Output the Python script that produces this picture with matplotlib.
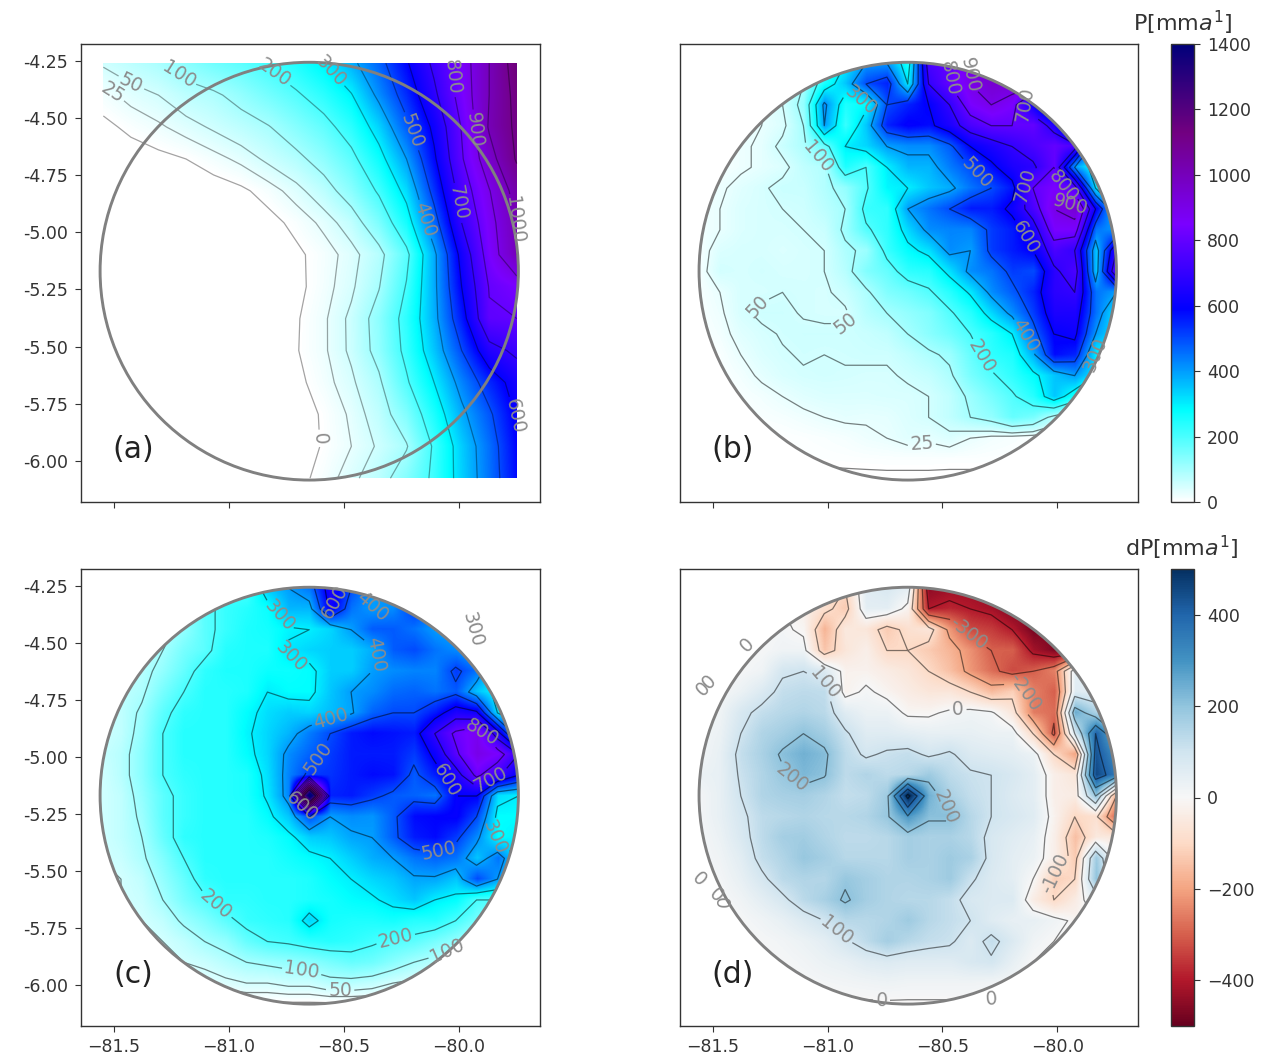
import numpy as np
import matplotlib
matplotlib.use("Agg")
import matplotlib.pyplot as plt
from matplotlib.colors import LinearSegmentedColormap
from matplotlib.patches import Ellipse, Rectangle

# ---- data (mm/a) ----
lon_a = np.linspace(-81.546, -79.749, 16)
lat_a = np.linspace(-4.26, -6.076, 14)
P_a = [
 [55,75,95,130,160,180,210,250,300,380,470,590,720,850,1000,1150],
 [15,35,50,75,90,120,155,190,235,295,420,540,680,840,1000,1130],
 [-8,7,20,37,55,75,97,135,175,235,335,480,620,805,1010,1120],
 [-20,-15,-8,0,15,32,58,85,125,180,270,400,585,790,960,1110],
 [-25,-25,-25,-20,-15,-6,12,38,75,130,210,325,530,745,895,1040],
 [-30,-30,-30,-30,-30,-25,-10,8,32,70,145,260,460,700,865,1010],
 [-30,-30,-30,-30,-30,-30,-20,-6,12,37,80,180,380,630,845,1000],
 [-30,-30,-30,-30,-30,-30,-20,-8,14,43,97,205,380,600,805,850],
 [-30,-30,-30,-30,-30,-30,-15,-3,20,58,125,230,375,560,790,800],
 [-30,-30,-30,-30,-30,-30,-15,-2,20,57,120,220,350,500,665,720],
 [-30,-30,-30,-30,-30,-30,-20,-8,14,43,90,190,300,430,545,640],
 [-30,-30,-30,-30,-30,-30,-25,-12,3,30,70,140,250,380,485,610],
 [-30,-30,-30,-30,-30,-30,-25,-12,2,25,55,95,210,340,455,590],
 [-30,-30,-30,-30,-30,-30,-25,-10,10,40,75,135,215,335,450,580],
]

lon_g = np.linspace(-81.56, -79.742, 21)
lat_g = np.linspace(-4.26, -6.083, 21)
P_b = [
 [10,10,10,10,40,100,200,300,400,400,250,750,800,900,950,950,950,900,800,700,600],
 [10,10,10,20,40,100,250,350,500,550,300,700,800,900,950,950,950,900,800,700,600],
 [10,10,10,20,50,120,420,250,280,500,550,600,700,850,900,850,600,350,300,300,300],
 [10,10,15,25,40,100,400,220,350,550,600,580,650,750,800,800,800,650,300,300,300],
 [10,10,20,30,60,90,170,300,330,400,420,420,480,600,650,700,750,800,750,300,300],
 [10,10,20,30,40,70,85,250,200,300,370,370,440,500,580,650,680,800,400,250,250],
 [15,20,35,45,60,60,85,120,190,290,300,350,380,450,500,570,800,850,750,300,200],
 [15,25,40,45,50,55,75,100,220,230,400,450,500,560,560,620,750,900,950,600,300],
 [15,25,40,45,45,50,60,110,190,230,330,420,430,430,520,560,650,850,850,450,400],
 [10,40,45,45,40,45,50,90,110,220,280,320,420,400,520,560,600,750,700,350,700],
 [10,50,45,50,45,45,50,80,140,170,230,240,320,420,450,520,500,680,750,350,800],
 [10,25,45,45,50,48,45,60,90,140,160,190,240,310,420,480,550,680,700,450,400],
 [8,20,45,55,55,48,45,45,80,100,120,140,190,240,330,420,520,650,650,450,300],
 [5,15,35,45,52,55,55,55,60,70,100,130,160,200,240,300,470,600,620,400,300],
 [5,8,25,40,48,52,50,52,55,55,70,90,110,170,230,250,380,580,550,300,250],
 [5,5,15,30,42,48,50,48,45,45,55,65,90,150,190,230,280,350,400,300,150],
 [5,5,8,15,25,35,40,40,40,42,42,50,70,110,150,190,240,350,250,100,50],
 [5,5,5,8,12,18,25,30,28,30,40,50,70,100,120,170,150,80,40,20,10],
 [2,2,2,2,2,5,8,12,20,25,35,30,40,25,15,10,5,5,5,5,5],
 [1,1,1,1,1,2,3,4,5,6,6,6,5,5,4,3,2,1,1,1,1],
 [-5,-5,-5,-5,-5,-5,-5,-5,-5,-5,-5,-5,-5,-5,-5,-5,-5,-5,-5,-5,-5],
]
P_c = [
 [50,50,50,50,100,150,200,200,350,400,450,650,500,400,400,500,500,450,400,300,300],
 [50,50,50,60,120,180,220,240,270,370,370,620,450,400,420,520,450,320,300,300,300],
 [50,50,50,80,120,180,220,250,260,290,300,330,400,480,480,450,400,380,280,280,280],
 [50,50,60,100,150,180,240,250,250,310,330,340,340,380,480,500,450,420,360,280,280],
 [50,60,80,120,170,230,250,250,270,270,280,340,340,400,420,430,430,520,450,280,280],
 [50,70,90,150,200,240,240,250,300,280,280,350,400,420,460,470,450,480,350,280,250],
 [50,70,110,180,230,240,240,280,320,340,330,360,390,470,500,500,560,650,620,300,280],
 [50,70,120,200,240,240,240,290,330,370,440,500,560,580,570,560,700,820,880,650,320],
 [60,80,130,200,240,240,240,280,330,420,470,520,560,560,560,520,620,780,900,850,700],
 [50,80,130,200,230,240,240,250,320,430,520,530,560,580,570,480,560,650,820,720,600],
 [50,70,120,180,220,240,240,250,310,430,1500,550,560,520,480,470,450,600,600,320,300],
 [50,70,110,180,220,240,240,240,280,350,500,400,420,410,480,580,590,600,500,280,280],
 [50,70,100,170,230,240,240,240,250,280,340,350,390,400,480,560,580,520,420,280,300],
 [50,60,90,140,200,240,240,240,240,260,280,300,340,380,400,450,470,450,350,450,300],
 [40,50,70,120,170,230,240,240,240,240,250,280,300,330,350,390,390,350,500,400,300],
 [30,50,60,100,150,190,230,230,240,240,250,260,280,290,320,350,300,280,200,200,150],
 [30,40,50,70,110,140,180,220,230,240,330,260,250,250,260,240,240,200,150,100,80],
 [30,30,40,50,70,100,120,170,200,210,230,240,230,210,190,180,150,120,80,60,40],
 [20,20,30,40,50,60,80,100,110,120,130,150,170,160,130,100,80,50,40,30,20],
 [10,10,20,25,30,30,40,50,50,60,60,80,80,70,50,40,30,20,10,10,10],
 [-5,-5,-5,-5,-5,-5,-5,-5,-5,-5,-5,-5,-5,-5,-5,-5,-5,-5,-5,-5,-5],
]
dP_d = [
 [0,0,0,0,0,-30,-80,-100,60,80,50,-450,-430,-430,-450,-450,-450,-420,-300,-200,-100],
 [0,0,0,0,0,-30,-80,-130,50,50,-20,-400,-380,-400,-420,-470,-470,-450,-300,-200,-100],
 [0,0,0,0,10,-10,-170,-50,-60,-130,-80,-60,-220,-330,-350,-400,-480,-460,-200,-100,-50],
 [0,0,0,5,20,20,-140,-60,-30,-100,-100,-130,-170,-230,-300,-300,-420,-470,-480,-100,-50],
 [0,0,5,20,90,100,70,-20,-20,-40,-60,-100,-150,-220,-280,-330,-300,-250,50,30,0],
 [0,5,30,70,120,130,125,-20,10,-15,-40,-60,-60,-100,-160,-120,-250,-300,60,50,30],
 [5,20,80,120,140,150,135,60,30,30,-10,-10,10,20,10,-60,-260,-280,250,150,100],
 [10,30,100,150,170,200,170,110,60,60,50,40,40,40,30,30,-100,-320,100,400,200],
 [10,40,120,160,210,240,215,130,90,110,120,90,110,70,60,50,30,-100,-200,430,300],
 [30,40,110,150,190,225,205,130,150,130,140,180,130,110,100,80,50,-30,-60,450,350],
 [10,40,100,150,165,170,150,120,130,180,530,240,160,120,100,70,50,-30,-40,200,-200],
 [10,40,85,130,140,150,140,140,150,190,290,210,210,140,100,80,60,-20,-100,-80,-300],
 [5,30,75,130,170,175,150,130,130,140,170,160,160,140,80,60,40,-30,-150,-50,-50],
 [5,20,55,120,150,190,170,140,140,140,170,160,180,160,80,50,30,-30,-130,180,-50],
 [0,10,40,85,135,150,145,190,170,150,150,160,180,110,70,50,0,-120,-100,200,0],
 [0,0,20,50,85,135,165,210,170,150,140,140,120,80,70,70,-40,-100,-40,50,0],
 [0,0,5,20,40,70,100,140,140,150,180,140,120,100,60,40,40,20,-10,0,0],
 [0,0,0,5,15,30,50,90,130,170,140,120,110,70,120,70,20,0,0,0,0],
 [0,0,0,0,5,15,30,40,60,70,60,60,60,80,90,40,0,0,0,0,0],
 [-5,-5,-5,-5,0,5,10,15,20,25,20,20,20,20,15,10,-5,-5,-5,-5,-5],
 [-5,-5,-5,-5,-5,-5,-5,-5,-5,-5,-5,-5,-5,-5,-5,-5,-5,-5,-5,-5,-5],
]
levels_P = [0,25,50,100,200,300,400,500,600,700,800,900,1000,1100,1200]
levels_dP = [-500,-400,-300,-200,-100,0,100,200,300,400,500]
xticks = [-81.5,-81.0,-80.5,-80.0]
yticks = [-4.25,-4.5,-4.75,-5.0,-5.25,-5.5,-5.75,-6.0]
xlim = (-81.643,-79.648)
ylim = (-6.18,-4.176)
circle_c = (-80.651,-5.17)
circle_w, circle_h = 1.818,1.828

def z(zx, zy):
    return (-81.643+(9+zx/3)/230, -4.176-(6+zy/3)/228.6)

labels_a = {0:[(695,1165)],25:[(60,140)],50:[(125,95)],100:[(280,55)],200:[(560,60)],300:[(725,60)],
            400:[(1015,505)],500:[(975,240)],600:[(1270,1100)],700:[(1125,455)],800:[(1095,80)],
            900:[(1150,240)],1000:[(1270,510)]}
labels_b = {25:[(695,1145)],50:[(210,775),(490,875)],100:[(375,335)],200:[(850,940)],
            300:[(540,90),(1165,900)],400:[(1055,835)],500:[(900,335)],600:[(1050,540)],
            700:[(940,180),(1020,410)],800:[(705,85),(1105,420)],900:[(810,75),(1150,480)]}
labels_c = {50:[(750,1230)],100:[(640,1140),(1045,1070)],200:[(475,870),(910,1060)],
            300:[(590,105),(590,280),(1065,215),(1210,790)],400:[(720,425),(910,250),(820,95)],
            500:[(735,600),(1030,790)],600:[(735,80),(1095,605),(650,680)],700:[(1195,600)],800:[(1175,475)]}
labels_d = {-300:[(890,130)],-200:[(1025,340)],-100:[(1090,890)],0:[(205,240),(115,415),(810,465),(105,500),(80,770),(125,920),(145,985),(580,1235),(905,1220)],
            100:[(570,110),(435,1080)],200:[(325,585),(755,710)]}

cmap_P = LinearSegmentedColormap.from_list("P",[(0,"#ffffff"),(280/1400,"#00ffff"),(590/1400,"#0000ff"),
                                               (850/1400,"#7a00ff"),(1130/1400,"#720080"),(1,"#00007a")],N=512)
txt = "#333333"
plt.rcParams.update({"font.family":"DejaVu Sans","font.size":12.5,"text.color":txt,"axes.edgecolor":"#333333",
                     "xtick.color":txt,"ytick.color":txt,"xtick.labelcolor":txt,"ytick.labelcolor":txt,
                     "xtick.major.size":4.4,"ytick.major.size":4.4,"xtick.major.pad":4.5,"ytick.major.pad":5,
                     "axes.linewidth":1.0,"contour.negative_linestyle":"solid"})
W,H = 1267,1058
fig = plt.figure(figsize=(W/100,H/100),dpi=100)
def add(l,t,r,b):
    return fig.add_axes([l/W,1-b/H,(r-l)/W,(b-t)/H])

def panel(rect,lon,lat,Z,cmap,vmin,vmax,levels,labels,tag,clip_circle,left,bottom):
    ax = add(*rect)
    Z = np.array(Z,float)
    dx,dy = (lon[1]-lon[0])/2,(lat[1]-lat[0])/2
    im = ax.imshow(Z,extent=(lon[0]-dx,lon[-1]+dx,lat[-1]+dy,lat[0]-dy),cmap=cmap,vmin=vmin,vmax=vmax,
                   aspect="auto",interpolation="bilinear",interpolation_stage="data",zorder=1)
    ell = Ellipse(circle_c,circle_w,circle_h,fill=False,ec="#808080",lw=2.1,zorder=4)
    ax.add_patch(ell)
    if clip_circle:
        im.set_clip_path(ell)
    else:
        r = Rectangle((lon[0],lat[-1]),lon[-1]-lon[0],lat[0]-lat[-1],transform=ax.transData)
        im.set_clip_path(r)
    line = (0,0,0,0.5) if clip_circle else (0,0,0,0.36)
    for lev in levels:
        if not (Z.min() < lev < Z.max()):
            continue
        cs = ax.contour(lon,lat,Z,levels=[lev],colors=[line],linewidths=0.9,zorder=2)
        if clip_circle:
            cs.set_clip_path(ell)
        pts = labels.get(lev)
        if pts:
            ax.clabel(cs,manual=[z(*p) for p in pts],fontsize=13.5,colors="#8c8c8c",fmt="%d",inline=True,inline_spacing=3)
    ax.set_xlim(xlim); ax.set_ylim(ylim)
    ax.set_xticks(xticks); ax.set_yticks(yticks if left else [])
    if left:
        ax.set_yticklabels(["%.2f"%v for v in yticks])
    ax.tick_params(labelbottom=bottom,labelleft=left)
    ax.text(z(130,0)[0],z(0,1200)[1],tag,fontsize=21.5,color="#222222",ha="center",va="center",zorder=5)
    return ax,im

axa,im1 = panel((81,44,540,502),lon_a,lat_a,P_a,cmap_P,0,1400,levels_P,labels_a,"(a)",False,True,False)
axb,_ = panel((680,44,1138,502),lon_g,lat_g,P_b,cmap_P,0,1400,levels_P,labels_b,"(b)",True,False,False)
axc,_ = panel((81,569,540,1026),lon_g,lat_g,P_c,cmap_P,0,1400,levels_P,labels_c,"(c)",True,True,True)
axd,im2 = panel((680,569,1138,1026),lon_g,lat_g,dP_d,"RdBu",-500,500,levels_dP,labels_d,"(d)",True,False,True)

c1 = add(1171,44,1194,502)
cb1 = fig.colorbar(im1,cax=c1); cb1.set_ticks(range(0,1401,200))
c2 = add(1171,569,1194,1026)
cb2 = fig.colorbar(im2,cax=c2); cb2.set_ticks([-400,-200,0,200,400])
fig.text(1183/W,1-23/H,r"P[mm$a^1$]",fontsize=16,ha="center",va="center")
fig.text(1182/W,1-548/H,r"dP[mm$a^1$]",fontsize=16,ha="center",va="center")
fig.savefig("out.png",dpi=100)
